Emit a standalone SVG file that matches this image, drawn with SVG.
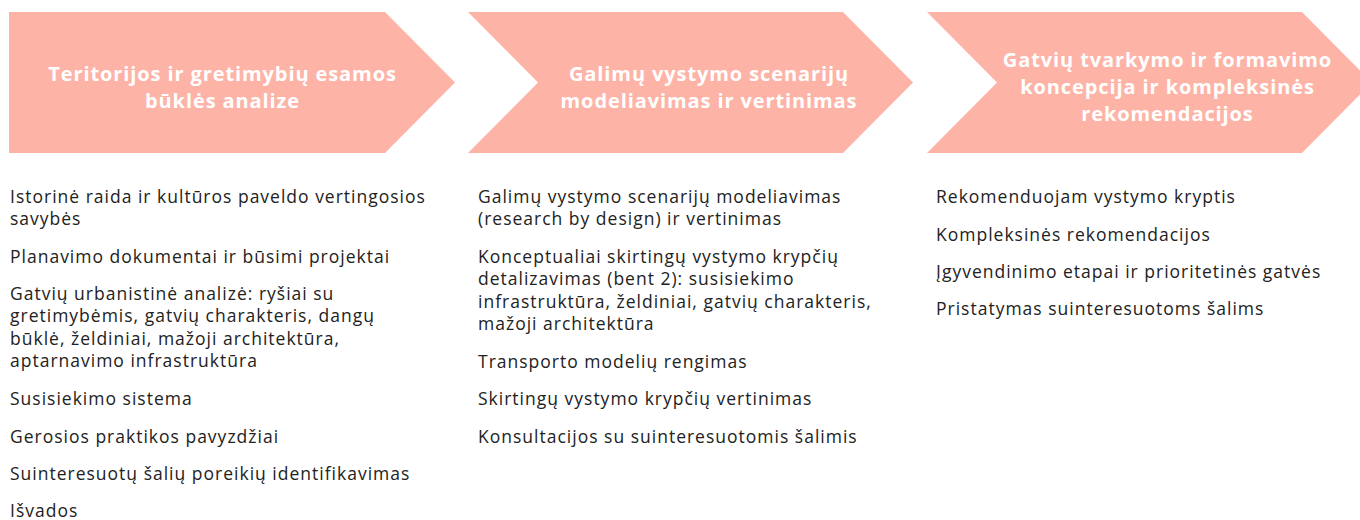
<svg xmlns="http://www.w3.org/2000/svg" width="1360" height="520" viewBox="0 0 1360 520">
<style>
.arrow{fill:#FEB3A7;}
.title{font-family:"Open Sans","Liberation Sans",sans-serif;font-weight:700;font-size:20px;letter-spacing:0.9px;fill:#ffffff;text-anchor:middle;}
.item{font-family:"Open Sans","Liberation Sans",sans-serif;font-size:17.5px;letter-spacing:1px;fill:#222222;}
</style>
<rect width="1360" height="520" fill="#ffffff"/>
<g id="step1">
<polygon class="arrow" points="9,12 385,12 455,82.5 385,153 9,153"/>
<text class="title" x="222.5" y="81">Teritorijos ir gretimybių esamos</text>
<text class="title" x="222.5" y="108">būklės analize</text>
</g>
<g id="step2">
<polygon class="arrow" points="468,12 843,12 913,82.5 843,153 468,153 538,82.5"/>
<text class="title" x="709" y="81">Galimų vystymo scenarijų</text>
<text class="title" x="709" y="108">modeliavimas ir vertinimas</text>
</g>
<g id="step3">
<polygon class="arrow" points="927,12 1302,12 1372,82.5 1302,153 927,153 997,82.5"/>
<text class="title" x="1167.5" y="67">Gatvių tvarkymo ir formavimo</text>
<text class="title" x="1167.5" y="94">koncepcija ir kompleksinės</text>
<text class="title" x="1167.5" y="121">rekomendacijos</text>
</g>
<g id="list1">
<text class="item" x="10" y="203">Istorinė raida ir kultūros paveldo vertingosios</text>
<text class="item" x="10" y="225">savybės</text>
<text class="item" x="10" y="263">Planavimo dokumentai ir būsimi projektai</text>
<text class="item" x="10" y="300">Gatvių urbanistinė analizė: ryšiai su</text>
<text class="item" x="10" y="322">gretimybėmis, gatvių charakteris, dangų</text>
<text class="item" x="10" y="345">būklė, želdiniai, mažoji architektūra,</text>
<text class="item" x="10" y="367">aptarnavimo infrastruktūra</text>
<text class="item" x="10" y="405">Susisiekimo sistema</text>
<text class="item" x="10" y="443">Gerosios praktikos pavyzdžiai</text>
<text class="item" x="10" y="480">Suinteresuotų šalių poreikių identifikavimas</text>
<text class="item" x="10" y="517">Išvados</text>
</g>
<g id="list2">
<text class="item" x="478" y="203">Galimų vystymo scenarijų modeliavimas</text>
<text class="item" x="478" y="225">(research by design) ir vertinimas</text>
<text class="item" x="478" y="263">Konceptualiai skirtingų vystymo krypčių</text>
<text class="item" x="478" y="285">detalizavimas (bent 2): susisiekimo</text>
<text class="item" x="478" y="308">infrastruktūra, želdiniai, gatvių charakteris,</text>
<text class="item" x="478" y="330">mažoji architektūra</text>
<text class="item" x="478" y="368">Transporto modelių rengimas</text>
<text class="item" x="478" y="405">Skirtingų vystymo krypčių vertinimas</text>
<text class="item" x="478" y="443">Konsultacijos su suinteresuotomis šalimis</text>
</g>
<g id="list3">
<text class="item" x="936" y="203">Rekomenduojam vystymo kryptis</text>
<text class="item" x="936" y="241">Kompleksinės rekomendacijos</text>
<text class="item" x="936" y="278">Įgyvendinimo etapai ir prioritetinės gatvės</text>
<text class="item" x="936" y="315">Pristatymas suinteresuotoms šalims</text>
</g>
</svg>
